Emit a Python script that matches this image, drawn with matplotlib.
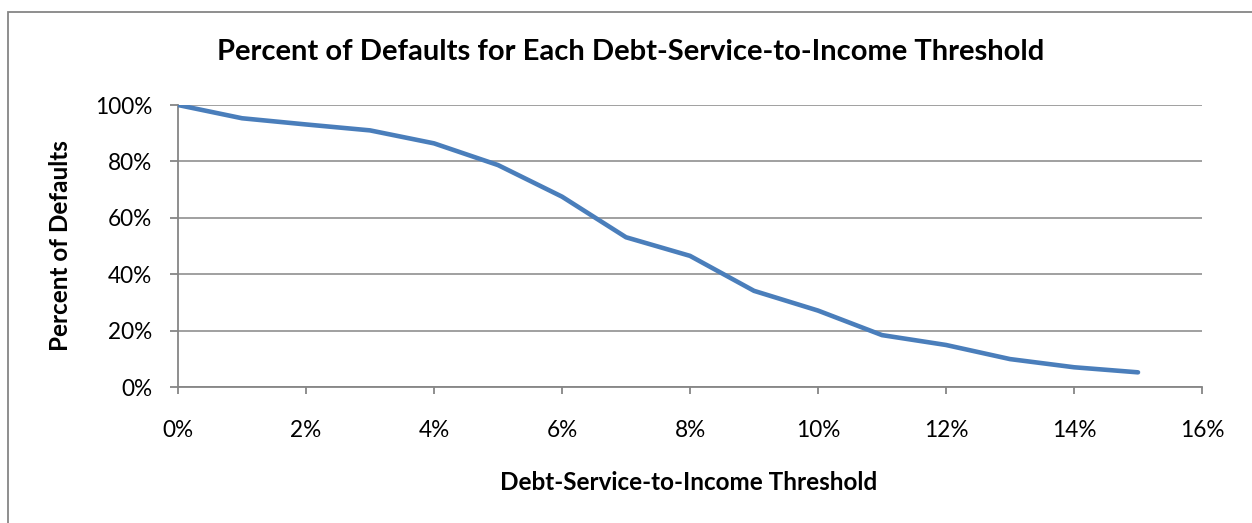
import matplotlib
matplotlib.use("Agg")
import matplotlib.pyplot as plt
from matplotlib.patches import Rectangle
from matplotlib.ticker import FuncFormatter, MultipleLocator

# Debt-service-to-income threshold (%) and share of defaults captured (%)
thresholds = [0, 1, 2, 3, 4, 5, 6, 7, 8, 9, 10, 11, 12, 13, 14, 15]
pct_defaults = [100, 95.3, 93.1, 91.0, 86.4, 78.7, 67.5, 53.1, 46.5, 34.1,
                27.1, 18.4, 14.9, 9.9, 7.0, 5.2]

TITLE = "Percent of Defaults for Each Debt-Service-to-Income Threshold"
XLABEL = "Debt-Service-to-Income Threshold"
YLABEL = "Percent of Defaults"

plt.rcParams["font.family"] = ["Lato", "DejaVu Sans"]

W, H = 1252, 523
fig = plt.figure(figsize=(W / 100, H / 100), dpi=100)
ax = fig.add_axes([178 / W, 1 - 387 / H, (1202 - 178) / W, (387 - 105) / H])

grey = "#868686"
ax.plot(thresholds, pct_defaults, color="#4A7EBB", linewidth=3.3,
        solid_capstyle="round", solid_joinstyle="round", zorder=3)

ax.set_xlim(0, 16)
ax.set_ylim(0, 100)
ax.xaxis.set_major_locator(MultipleLocator(2))
ax.yaxis.set_major_locator(MultipleLocator(20))
ax.xaxis.set_major_formatter(FuncFormatter(lambda v, p: f"{v:.0f}%"))
ax.yaxis.set_major_formatter(FuncFormatter(lambda v, p: f"{v:.0f}%"))
ax.grid(axis="y", color=grey, linewidth=1.1)
ax.set_axisbelow(True)
for side in ["top", "right"]:
    ax.spines[side].set_visible(False)
for side in ["left", "bottom"]:
    ax.spines[side].set_color(grey)
    ax.spines[side].set_linewidth(1.3)
ax.tick_params(axis="x", length=5, width=1.3, color=grey, pad=19,
               labelsize=16.3)
ax.tick_params(axis="y", length=5.5, width=1.3, color=grey, pad=13,
               labelsize=16.3)

fig.text(631 / W, 1 - 52 / H, TITLE, ha="center", va="center",
         fontsize=21, fontweight="bold")
fig.text(689 / W, 1 - 482 / H, XLABEL, ha="center", va="center",
         fontsize=17.5, fontweight="bold")
fig.text(60 / W, 1 - 246 / H, YLABEL, ha="center", va="center",
         fontsize=17.5, fontweight="bold", rotation=90)

# chart frame, cut off on the right and bottom like the original
fig.patches.append(Rectangle((8 / W, -0.1), 1.2, 1 - 12 / H + 0.1,
                             transform=fig.transFigure, fill=False,
                             edgecolor=grey, linewidth=1.3))

fig.savefig("out.png", dpi=100)
